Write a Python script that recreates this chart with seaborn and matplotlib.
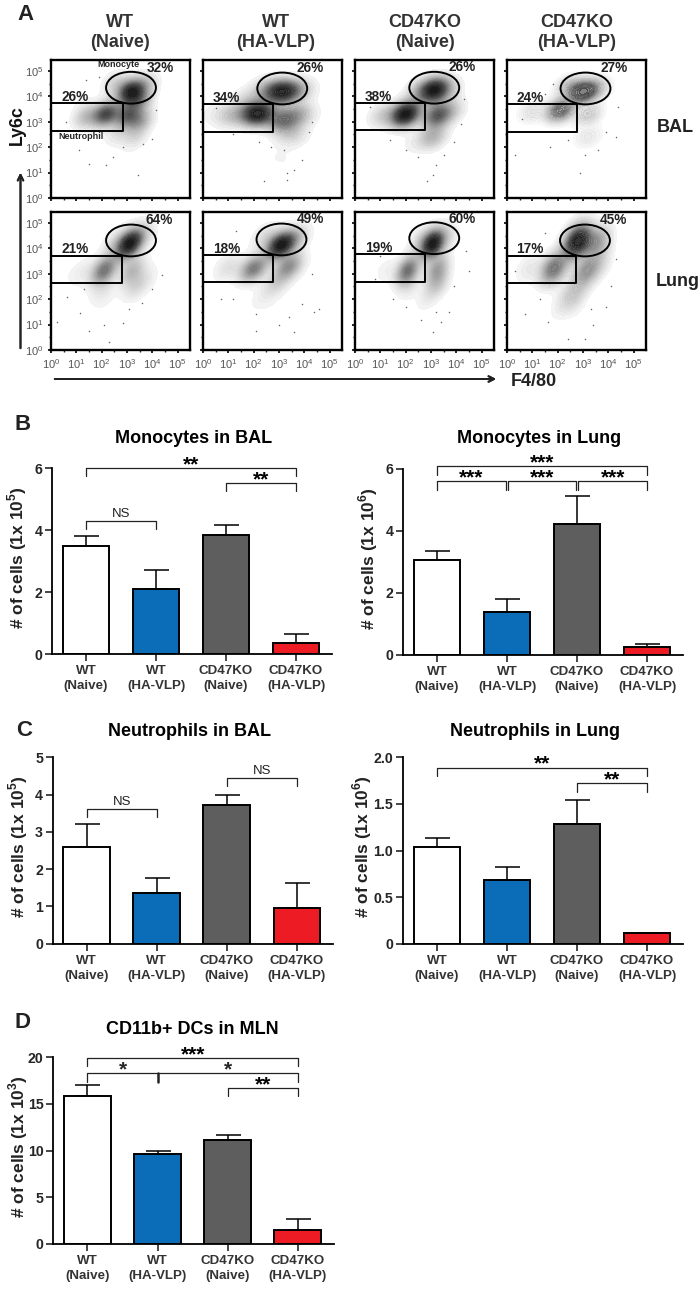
import pandas as pd
import matplotlib.pyplot as plt
import seaborn as sns
from matplotlib.patches import Ellipse

sns.set_style("white")
plt.rcParams["font.family"] = ["Liberation Sans", "DejaVu Sans"]
plt.rcParams["mathtext.fontset"] = "custom"
plt.rcParams["mathtext.rm"] = "Liberation Sans"
plt.rcParams["mathtext.bf"] = "Liberation Sans:bold"

W, H = 700, 1292

# Bar data
groups = ["WT\n(Naive)", "WT\n(HA-VLP)", "CD47KO\n(Naive)", "CD47KO\n(HA-VLP)"]
bar_colors = ["#ffffff", "#0b6cb8", "#5e5e5e", "#ed1c24"]

mono_bal = [3.5, 2.1, 3.85, 0.35]
mono_bal_top = [3.8, 2.7, 4.15, 0.65]
mono_lung = [3.07, 1.4, 4.22, 0.25]
mono_lung_top = [3.35, 1.8, 5.12, 0.35]
neut_bal = [2.6, 1.37, 3.72, 0.96]
neut_bal_top = [3.22, 1.76, 4.0, 1.63]
neut_lung = [1.04, 0.68, 1.28, 0.12]
neut_lung_top = [1.13, 0.82, 1.54, 0.12]
dc_mln = [15.8, 9.6, 11.1, 1.5]
dc_mln_top = [17.0, 10.0, 11.7, 2.7]

# Flow plots: the dots can't be typed one by one, so each cloud is a density
# over anchor points (log10 F4/80, log10 Ly6c, weight)
bal_wt_naive = [(3.15, 4.18, 5), (3.0, 3.25, 3), (2.17, 3.3, 4), (1.4, 3.2, 1.5), (3.5, 3.05, 2),
                (3.5, 3.85, 2), (2.55, 4.5, 1), (3.75, 4.5, 1), (2.6, 2.5, 0.6), (3.3, 2.4, 0.8),
                (1.2, 3.9, 0.2), (3.0, 1.6, 0.1), (2.0, 1.5, 0.05)]
bal_wt_vlp = [(2.15, 3.32, 4), (1.15, 3.25, 1), (0.4, 3.3, 0.2), (3.13, 4.18, 3.5), (2.5, 4.25, 1),
              (3.8, 4.25, 1), (3.13, 3.05, 2), (3.8, 3.3, 1.2), (3.5, 2.5, 0.8), (2.9, 1.6, 0.15),
              (3.5, 1.35, 0.1), (1.7, 3.85, 0.5)]
bal_ko_naive = [(2.0, 3.3, 5), (1.1, 3.25, 1), (3.13, 4.25, 4.5), (2.55, 4.25, 1), (3.7, 4.25, 0.8),
                (3.25, 3.25, 3), (3.07, 2.4, 1.5), (3.85, 3.45, 0.8), (2.3, 2.15, 0.3), (3.07, 1.1, 0.05)]
bal_ko_vlp = [(2.1, 3.45, 2), (1.0, 3.4, 0.5), (3.0, 4.18, 2.5), (2.45, 4.38, 0.8), (3.55, 4.3, 0.7),
              (3.2, 3.3, 0.8), (3.2, 2.4, 0.4)]
lung_wt_naive = [(3.1, 4.18, 7), (3.6, 4.5, 1), (2.55, 4.18, 1), (2.1, 3.13, 4), (1.25, 3.06, 0.5),
                 (3.2, 3.13, 2), (3.35, 2.53, 1), (2.05, 2.27, 0.6), (3.75, 2.8, 0.4), (2.2, 1.5, 0.1),
                 (0.6, 2.9, 0.1)]
lung_wt_vlp = [(3.07, 4.12, 5.5), (2.5, 4.45, 0.8), (3.65, 4.4, 1.2), (2.0, 3.2, 3), (1.0, 3.25, 0.7),
               (3.4, 3.3, 2.5), (2.9, 2.65, 1), (2.35, 2.0, 0.3), (2.9, 1.5, 0.12)]
lung_ko_naive = [(3.07, 4.18, 7), (2.6, 4.3, 1), (3.65, 4.45, 0.8), (2.08, 3.13, 4), (1.2, 3.13, 0.4),
                 (3.25, 3.2, 2.5), (3.25, 2.6, 1.5), (2.8, 2.0, 0.4), (2.15, 2.5, 0.6)]
lung_ko_vlp = [(2.78, 4.25, 5), (3.55, 4.25, 2), (2.85, 4.7, 0.6), (1.85, 3.2, 3), (0.85, 3.2, 0.5),
               (3.1, 3.06, 2), (2.58, 2.13, 1.2), (3.6, 3.45, 0.8), (2.05, 1.6, 0.2), (2.85, 1.1, 0.1)]

clouds = [bal_wt_naive, bal_wt_vlp, bal_ko_naive, bal_ko_vlp,
          lung_wt_naive, lung_wt_vlp, lung_ko_naive, lung_ko_vlp]
cloud_alpha = [1.0, 0.9, 1.0, 0.55, 1.0, 1.0, 1.0, 0.9]

# stray events outside the clouds
stray_bal_wt_naive = [(3.42, 0.91), (1.49, 1.35), (2.17, 1.28), (2.83, 2.0), (1.38, 4.64), (4.0, 2.33),
                      (4.14, 3.46), (1.12, 1.87), (2.43, 1.6), (3.62, 2.14), (0.6, 3.0), (1.9, 4.75)]
stray_bal_wt_vlp = [(3.3, 1.0), (2.4, 0.65), (3.3, 0.7), (2.7, 2.0), (3.9, 1.5), (4.3, 3.0),
                    (0.5, 3.55), (1.2, 2.5), (2.2, 2.2), (3.2, 1.9), (4.2, 2.6), (3.6, 1.1)]
stray_bal_ko_naive = [(3.1, 0.9), (3.2, 1.3), (2.85, 0.65), (1.4, 2.3), (2.0, 1.9), (4.3, 3.9),
                      (4.2, 2.9), (0.6, 3.6), (1.1, 4.2), (3.9, 2.2), (2.5, 1.6), (3.5, 1.7)]
stray_bal_ko_vlp = [(2.9, 1.0), (1.7, 2.0), (0.3, 1.7), (4.3, 2.4), (4.4, 3.6), (3.6, 1.9), (3.1, 1.7),
                    (1.5, 4.1), (1.8, 4.5), (0.6, 3.1), (2.4, 2.3), (3.9, 2.6)]
stray_lung_wt_naive = [(0.25, 1.1), (1.5, 0.75), (1.15, 1.45), (2.1, 1.0), (2.85, 1.05), (2.3, 0.3),
                       (4.4, 2.95), (4.0, 2.4), (0.65, 2.1), (1.3, 2.4), (3.1, 1.6), (3.6, 1.85)]
stray_lung_wt_vlp = [(2.1, 0.75), (3.6, 0.7), (4.4, 1.5), (4.6, 1.6), (1.2, 2.0), (0.7, 2.0),
                     (2.1, 1.4), (3.4, 1.3), (3.0, 1.0), (4.3, 3.0), (1.3, 4.7), (3.9, 1.8)]
stray_lung_ko_naive = [(2.6, 1.2), (3.1, 0.7), (3.4, 1.1), (3.2, 1.5), (1.5, 2.0), (0.8, 2.8),
                       (4.5, 3.1), (3.9, 2.5), (4.4, 3.9), (2.0, 1.7), (1.0, 3.7), (3.7, 1.5)]
stray_lung_ko_vlp = [(0.7, 1.4), (1.3, 2.0), (2.4, 0.45), (3.1, 0.45), (3.4, 1.0), (4.3, 3.6),
                     (0.3, 3.1), (1.6, 1.1), (3.9, 1.7), (4.1, 2.5), (1.5, 4.6), (3.3, 1.6)]

strays = [stray_bal_wt_naive, stray_bal_wt_vlp, stray_bal_ko_naive, stray_bal_ko_vlp,
          stray_lung_wt_naive, stray_lung_wt_vlp, stray_lung_ko_naive, stray_lung_ko_vlp]

mono_pct = ["32%", "26%", "26%", "27%", "64%", "49%", "60%", "45%"]
neut_pct = ["26%", "34%", "38%", "24%", "21%", "18%", "19%", "17%"]
mono_pct_x = [4.3, 4.25, 4.25, 4.25, 4.29, 4.24, 4.25, 4.2]
mono_pct_y = [5.13, 5.1, 5.17, 5.1, 5.1, 5.15, 5.17, 5.13]
neut_pct_x = [0.96, 0.93, 0.93, 0.91, 0.96, 0.92, 0.93, 0.9]
neut_pct_y = [3.98, 3.95, 3.98, 3.95, 3.96, 3.98, 4.02, 3.96]

ellipse_x = [3.16, 3.13, 3.13, 3.1, 3.16, 3.1, 3.13, 3.08]
ellipse_y = [4.34, 4.31, 4.34, 4.31, 4.31, 4.35, 4.4, 4.31]
gate_right = [2.83, 2.76, 2.77, 2.75, 2.8, 2.76, 2.77, 2.74]
gate_low = [2.64, 2.6, 2.66, 2.6, 2.64, 2.66, 2.69, 2.64]
gate_top = [3.72, 3.68, 3.72, 3.68, 3.69, 3.75, 3.79, 3.69]

flow_titles = ["WT\n(Naive)", "WT\n(HA-VLP)", "CD47KO\n(Naive)", "CD47KO\n(HA-VLP)"]
flow_left = [51, 203, 355, 507]
flow_top = [60, 212]
decades = [0, 1, 2, 3, 4, 5]

cloud_cmap = sns.blend_palette(["#f6f6f6", "#a8a8a8", "#505050", "#161616"], as_cmap=True)


def px_axes(left, top, right, bottom):
    return plt.gcf().add_axes([left / W, 1 - bottom / H, (right - left) / W, (bottom - top) / H])


def fig_text(x, y, s, **kw):
    kw.setdefault("ha", "center")
    kw.setdefault("va", "center")
    kw.setdefault("fontweight", "bold")
    plt.gcf().text(x / W, 1 - y / H, s, **kw)


def flow_panel(i, left, top):
    ax = px_axes(left, top, left + 139, top + 138)
    cloud = pd.DataFrame(clouds[i], columns=["f480", "ly6c", "w"])
    sns.kdeplot(data=cloud, x="f480", y="ly6c", weights="w", fill=True, cmap=cloud_cmap, levels=30,
                thresh=0.04, bw_method=0.5, gridsize=150, alpha=cloud_alpha[i], antialiased=False, ax=ax)
    stray = pd.DataFrame(strays[i], columns=["f480", "ly6c"])
    sns.scatterplot(data=stray, x="f480", y="ly6c", s=1.2, color="#666666", linewidth=0, ax=ax)
    ax.set_xlim(0, 5.49)
    ax.set_ylim(0, 5.43)
    ax.set_xlabel("")
    ax.set_ylabel("")

    ax.add_patch(Ellipse((ellipse_x[i], ellipse_y[i]), 1.97, 1.25, fill=False, ec="black", lw=1.4))
    ax.plot([0, gate_right[i], gate_right[i], 0],
            [gate_top[i], gate_top[i], gate_low[i], gate_low[i]], color="black", lw=1.4)

    ax.text(mono_pct_x[i], mono_pct_y[i], mono_pct[i], ha="center", va="center",
            fontsize=9.8, fontweight="bold", color="#222222")
    ax.text(neut_pct_x[i], neut_pct_y[i], neut_pct[i], ha="center", va="center",
            fontsize=9.8, fontweight="bold", color="#222222")
    if i == 0:
        ax.text(2.67, 5.24, "Monocyte", ha="center", va="center", fontsize=6.5, fontweight="bold")
        ax.text(1.18, 2.43, "Neutrophil", ha="center", va="center", fontsize=6.5, fontweight="bold")

    ax.set_xticks(decades)
    ax.set_yticks(decades)
    ax.set_xticks([d + 0.5 for d in decades[:-1]], minor=True)
    ax.set_yticks([d + 0.5 for d in decades[:-1]], minor=True)
    ax.set_xticklabels([f"$10^{{{d}}}$" for d in decades] if i >= 4 else [])
    ax.set_yticklabels([f"$10^{{{d}}}$" for d in decades] if i % 4 == 0 else [])
    ax.tick_params(which="major", length=2.5, width=1.4, labelsize=8, labelcolor="#555555",
                   left=True, bottom=True, pad=3)
    ax.tick_params(which="minor", length=1.5, width=1.0, left=True, bottom=True)
    for s in ax.spines.values():
        s.set_visible(True)
        s.set_linewidth(1.7)
        s.set_color("black")


def bracket(ax, a, b, y, drop, label, small=False):
    ax.plot([a, a, b, b], [y - drop, y, y, y - drop], color="#222222", lw=0.9, clip_on=False)
    mid = (a + b) / 2
    if small:
        ax.text(mid, y + drop * 0.15, label, ha="center", va="bottom", fontsize=9.5, color="#222222")
    else:
        ax.text(mid, y - drop * 0.75, label, ha="center", va="bottom", fontsize=15,
                fontweight="bold", color="black")


def bar_panel(box, values, tops, ymax, yticks, yticklabels, exp, brackets, label_gap=23):
    ax = px_axes(*box)
    df = pd.DataFrame({"group": groups, "value": values})
    err_up = [t - v for t, v in zip(tops, values)]
    ax.errorbar(range(4), values, yerr=[[0] * 4, err_up], fmt="none", ecolor="black",
                elinewidth=1.1, capsize=9, capthick=1.1, zorder=1)
    sns.barplot(data=df, x="group", y="value", hue="group", palette=bar_colors, legend=False,
                width=0.67, edgecolor="black", linewidth=1.4, saturation=1, zorder=2, ax=ax)
    ax.set_xlim(-0.486, 3.514)
    ax.set_ylim(0, ymax)
    ax.set_yticks(yticks)
    ax.set_yticklabels(yticklabels)
    ax.set_xlabel("")
    ax.set_ylabel(f"# of cells (1x 10$^{{\\mathbf{{{exp}}}}}$)", fontsize=12.5, fontweight="bold",
                  color="#222222")
    ax.yaxis.set_label_coords(-label_gap / (box[2] - box[0]), 0.52)
    ax.tick_params(axis="y", length=5, width=1.2, labelsize=10.2, pad=2, left=True)
    ax.tick_params(axis="x", length=5, width=1.2, labelsize=9.6, labelcolor="#333333", pad=3, bottom=True)
    for lab in ax.get_xticklabels() + ax.get_yticklabels():
        lab.set_fontweight("bold")
        lab.set_linespacing(1.3)
    sns.despine(ax=ax)
    ax.spines["left"].set_linewidth(1.3)
    ax.spines["bottom"].set_linewidth(1.3)
    ax.spines["left"].set_color("black")
    ax.spines["bottom"].set_color("black")
    for b in brackets:
        bracket(ax, *b)
    return ax


fig = plt.figure(figsize=(W / 100, H / 100), dpi=100)

for i, cloud in enumerate(clouds):
    flow_panel(i, flow_left[i % 4], flow_top[i // 4])

for x, s in zip([120, 276, 425, 577], flow_titles):
    fig_text(x, 32.5, s, fontsize=13, color="#333333", linespacing=1.3)
fig_text(675, 128, "BAL", fontsize=13, color="#222222")
fig_text(678, 281, "Lung", fontsize=13, color="#222222")
fig_text(17, 125, "Ly6c", fontsize=12.8, rotation=90, color="#111111")
fig_text(534, 381, "F4/80", fontsize=13, color="#222222")

# axis arrows of panel A
fig.add_artist(plt.annotate("", xy=(20.5 / W, 1 - 170 / H), xytext=(20.5 / W, 1 - 351 / H),
                            xycoords="figure fraction", textcoords="figure fraction",
                            arrowprops=dict(arrowstyle="->", lw=1.4, color="#222222")))
fig.add_artist(plt.annotate("", xy=(499 / W, 1 - 379 / H), xytext=(52 / W, 1 - 379 / H),
                            xycoords="figure fraction", textcoords="figure fraction",
                            arrowprops=dict(arrowstyle="->", lw=1.4, color="#222222")))

bar_panel((52, 468, 332, 654), mono_bal, mono_bal_top, 6, [0, 2, 4, 6], ["0", "2", "4", "6"], 5,
          [(0, 3, 6.0, 0.27, "**"), (2, 3, 5.52, 0.27, "**"), (0, 1, 4.29, 0.27, "NS", True)])
bar_panel((403, 469, 683, 655), mono_lung, mono_lung_top, 6, [0, 2, 4, 6], ["0", "2", "4", "6"], 6,
          [(0, 3, 6.09, 0.27, "***"), (0, 0.98, 5.6, 0.27, "***"), (1.02, 1.98, 5.6, 0.27, "***"),
           (2.02, 3, 5.6, 0.27, "***")])
bar_panel((52.7, 757.3, 333, 943.7), neut_bal, neut_bal_top, 5, [0, 1, 2, 3, 4, 5],
          ["0", "1", "2", "3", "4", "5"], 5,
          [(0, 1, 3.6, 0.21, "NS", True), (2, 3, 4.44, 0.21, "NS", True)])
bar_panel((403, 757.3, 683, 943.7), neut_lung, neut_lung_top, 2, [0, 0.5, 1, 1.5, 2],
          ["0", "0.5", "1.0", "1.5", "2.0"], 6,
          [(0, 3, 1.89, 0.09, "**"), (2, 3, 1.72, 0.09, "**")], label_gap=29)
ax_d = bar_panel((53.3, 1057.3, 334, 1243.7), dc_mln, dc_mln_top, 20, [0, 5, 10, 15, 20],
                 ["0", "5", "10", "15", "20"], 3,
                 [(0, 3, 19.96, 0.9, "***"), (2, 3, 16.7, 0.9, "**")])
# the middle row of D carries two stars over one long bracket
ax_d.plot([0, 0, 3, 3], [17.4, 18.3, 18.3, 17.4], color="#222222", lw=0.9, clip_on=False)
ax_d.plot([1, 1], [17.4, 18.3], color="#222222", lw=1.8, clip_on=False)
ax_d.text(0.5, 17.6, "*", ha="center", va="bottom", fontsize=15, fontweight="bold")
ax_d.text(2.0, 17.6, "*", ha="center", va="bottom", fontsize=15, fontweight="bold")

for x, y, s in [(194, 439, "Monocytes in BAL"), (539, 439, "Monocytes in Lung"),
                (190, 731, "Neutrophils in BAL"), (535, 731, "Neutrophils in Lung"),
                (192, 1029, "CD11b+ DCs in MLN")]:
    fig_text(x, y, s, fontsize=13, color="black")

for x, y, s in [(25, 15, "A"), (23, 424, "B"), (24, 730, "C"), (23, 1023, "D")]:
    fig_text(x, y, s, fontsize=16, color="#222222")

fig.savefig("out.png", dpi=100)
